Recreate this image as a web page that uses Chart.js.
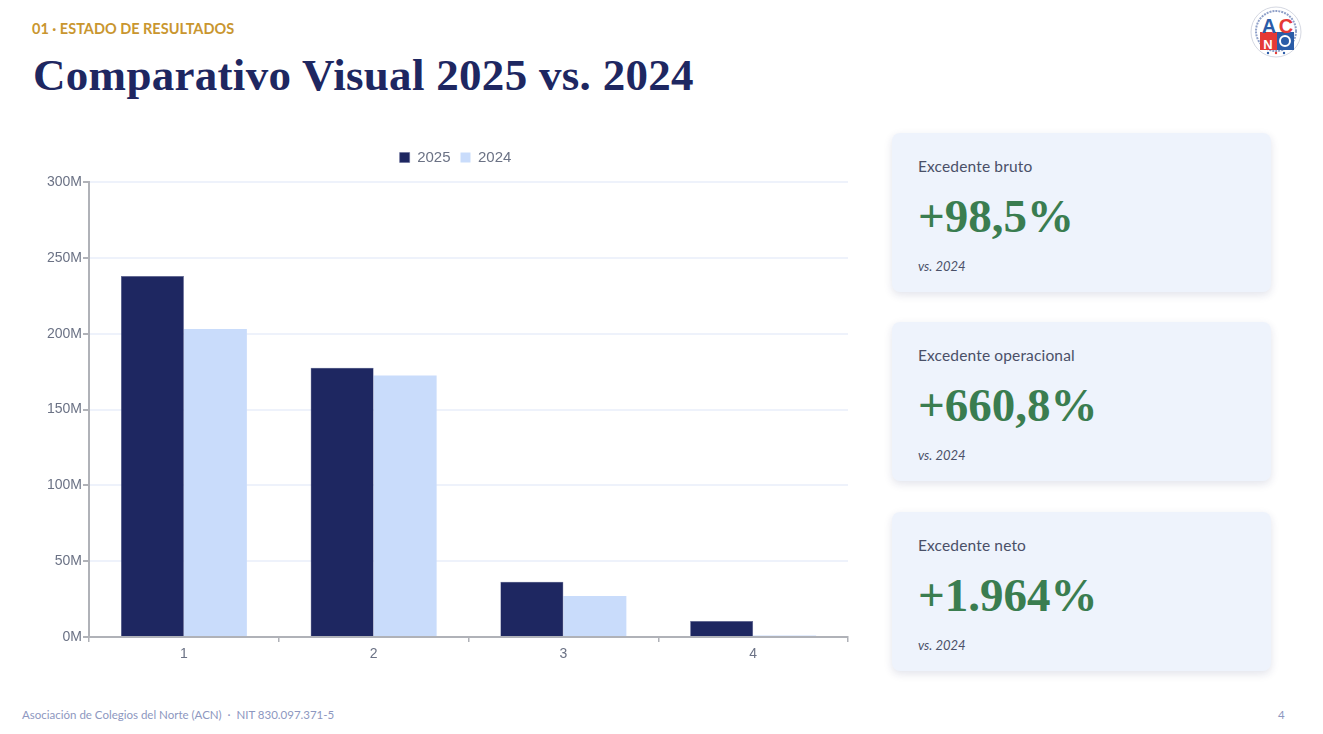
<!DOCTYPE html>
<html lang="es">
<head>
<meta charset="utf-8">
<title>Comparativo Visual 2025 vs. 2024</title>
<script src="https://cdn.jsdelivr.net/npm/chart.js@4/dist/chart.umd.min.js"></script>
<style>
  html, body { margin: 0; padding: 0; background: #fff; }
  body { width: 1323px; height: 734px; position: relative; overflow: hidden; font-family: Lato, "Open Sans", sans-serif; }
  .eyebrow { position: absolute; left: 32px; top: 20px; font-size: 14.5px; font-weight: 700; color: #c9962f; }
  h1 { position: absolute; left: 33px; top: 49px; margin: 0; font: 700 45px "Liberation Serif", serif; color: #1e2761; letter-spacing: 0.3px; }
  .chart-box { position: absolute; left: 30px; top: 140px; width: 830px; height: 525px; }
  .chart-box canvas { filter: blur(0.6px); }
  .card { position: absolute; left: 892px; width: 379px; height: 159px; background: #eef3fc; border-radius: 8px; box-shadow: 0 3px 8px rgba(30, 39, 97, 0.13); }
  .card .name { position: absolute; left: 26px; top: 24px; font-size: 15.5px; letter-spacing: 0.15px; color: #4a5068; }
  .card .pct { position: absolute; left: 26px; top: 56px; font: 700 47px "Liberation Serif", serif; color: #3a7d50; }
  .card .vs { position: absolute; left: 26px; top: 125px; font-size: 13px; font-style: italic; color: #4a5068; }
  .foot { position: absolute; top: 708px; font-size: 11.5px; color: #8d97c0; }
  .logo { position: absolute; left: 1250px; top: 6px; }
</style>
</head>
<body>
<div class="eyebrow">01 · ESTADO DE RESULTADOS</div>
<h1>Comparativo Visual 2025 vs. 2024</h1>
<svg class="logo" width="52" height="52" viewBox="0 0 52 52">
  <circle cx="26" cy="26" r="25" fill="#fff" stroke="#d5d8e2" stroke-width="1"/>
  <circle cx="26" cy="25" r="20" fill="none" stroke="#8fa0c8" stroke-width="2" stroke-dasharray="2 1"/>
  <rect x="10" y="26" width="17" height="18" fill="#e53935"/>
  <rect x="27" y="26" width="17" height="18" fill="#2a5ca8"/>
  <circle cx="35" cy="35" r="5" fill="none" stroke="#fff" stroke-width="2"/>
  <text x="19" y="27" font-family="Liberation Sans" font-weight="700" font-size="20" fill="#2a5ca8" text-anchor="middle">A</text>
  <text x="36" y="27" font-family="Liberation Sans" font-weight="700" font-size="20" fill="#e53935" text-anchor="middle">C</text>
  <text x="18" y="43" font-family="Liberation Sans" font-weight="700" font-size="13" fill="#fff" text-anchor="middle">N</text>
  <circle cx="18" cy="47" r="1.2" fill="#2a5ca8"/>
  <circle cx="26" cy="47" r="1.2" fill="#e53935"/>
  <circle cx="34" cy="47" r="1.2" fill="#2a5ca8"/>
</svg>
<div class="chart-box"><canvas id="chart" width="830" height="525"></canvas></div>
<div class="card" style="top:133px"><div class="name">Excedente bruto</div><div class="pct">+98,5%</div><div class="vs">vs. 2024</div></div>
<div class="card" style="top:322px"><div class="name">Excedente operacional</div><div class="pct">+660,8%</div><div class="vs">vs. 2024</div></div>
<div class="card" style="top:512px"><div class="name">Excedente neto</div><div class="pct">+1.964%</div><div class="vs">vs. 2024</div></div>
<div class="foot" style="left:22px">Asociación de Colegios del Norte (ACN) &nbsp;·&nbsp; NIT 830.097.371-5</div>
<div class="foot" style="left:1278px">4</div>
<script>
const categories = ['1', '2', '3', '4'];
const values2025 = [238000000, 177500000, 36500000, 10500000];
const values2024 = [203000000, 172500000, 27000000, 1000000];

const TEXT = '#6b7285';
const AXIS = '#b0b2b8';
const GRID = '#eef2fb';

new Chart(document.getElementById('chart'), {
  type: 'bar',
  data: {
    labels: categories,
    datasets: [
      { label: '2025', data: values2025, backgroundColor: '#1e2761', borderColor: '#5a6290', borderWidth: 0.5 },
      { label: '2024', data: values2024, backgroundColor: '#c9dcfb' },
    ],
  },
  options: {
    responsive: false,
    animation: false,
    devicePixelRatio: 1,
    layout: { padding: { top: 0, right: 12, left: 0, bottom: 0 } },
    datasets: { bar: { categoryPercentage: 0.664, barPercentage: 1 } },
    scales: {
      x: {
        afterFit(scale) { scale.height = 28; },
        border: { color: AXIS, width: 2 },
        grid: { drawOnChartArea: false, tickColor: AXIS, tickLength: 5, lineWidth: 1.5 },
        ticks: { color: TEXT, font: { family: 'Liberation Sans', size: 14 }, padding: 4 },
      },
      y: {
        min: 0,
        max: 300000000,
        afterFit(scale) { scale.width = 59; },
        border: { color: AXIS, width: 2 },
        grid: { color: GRID, lineWidth: 2, tickColor: AXIS, tickLength: 6 },
        ticks: {
          stepSize: 50000000,
          color: TEXT,
          font: { family: 'Liberation Sans', size: 14 },
          padding: 1,
          callback: v => (v / 1000000) + 'M',
        },
      },
    },
    plugins: {
      tooltip: { enabled: false },
      legend: {
        position: 'top',
        labels: {
          color: TEXT,
          font: { family: 'Liberation Sans', size: 15 },
          boxWidth: 10,
          boxHeight: 10,
          padding: 10,
        },
      },
    },
  },
  plugins: [{
    // legend sits right of centre and leaves a taller gap above the plot
    id: 'legendPlacement',
    beforeLayout(chart) {
      const legend = chart.legend;
      if (!legend.wrappedFit) {
        const fit = legend.fit;
        legend.fit = function () { fit.call(this); this.height = 42; };
        legend.wrappedFit = true;
      }
    },
    afterLayout(chart) {
      chart.legend.left += 33;
    },
  }],
});
</script>
</body>
</html>
